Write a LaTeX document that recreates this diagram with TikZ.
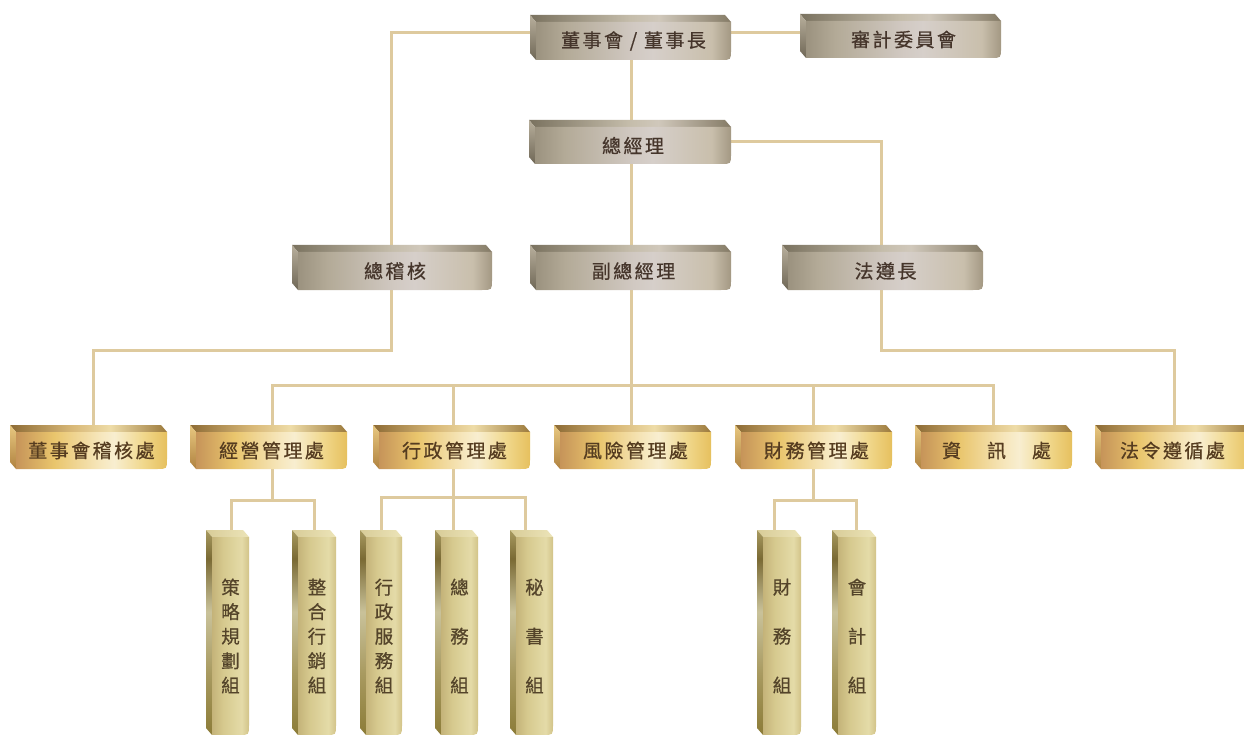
\documentclass[tikz,border=0pt]{standalone}
\usepackage{fontspec}
\newfontfamily\cjk[LetterSpace=13, FakeBold=0.7]{Noto Sans CJK TC}
\newfontfamily\cjkv[FakeBold=0.6]{Noto Sans CJK TC}
\pgfdeclarelayer{bg}\pgfdeclarelayer{mid}\pgfsetlayers{bg,mid,main}
% colours
\definecolor{conn}{HTML}{DECA9E}
\definecolor{gF0}{HTML}{9B927F}\definecolor{gF1}{HTML}{B3AA97}\definecolor{gF2}{HTML}{D1C9C2}
\definecolor{gF3}{HTML}{D6CFCA}\definecolor{gF4}{HTML}{C9BFAC}\definecolor{gF5}{HTML}{A39883}
\definecolor{gT0}{HTML}{7A725F}\definecolor{gT1}{HTML}{C5BDAB}\definecolor{gT2}{HTML}{D0C8BB}\definecolor{gT3}{HTML}{857B66}
\definecolor{gL0}{HTML}{6F6756}\definecolor{gL1}{HTML}{B8AF9C}
\definecolor{oF0}{HTML}{C69459}\definecolor{oF1}{HTML}{E9C56C}\definecolor{oF2}{HTML}{F6E6BB}
\definecolor{oF3}{HTML}{F8EED0}\definecolor{oF4}{HTML}{F0D78A}\definecolor{oF5}{HTML}{E6C05E}
\definecolor{oT0}{HTML}{8D6B35}\definecolor{oT1}{HTML}{D9B978}\definecolor{oT2}{HTML}{EEDCA8}\definecolor{oT3}{HTML}{9C7A3C}
\definecolor{oL0}{HTML}{B08240}\definecolor{oL1}{HTML}{E8C880}
\definecolor{vF0}{HTML}{C4B379}\definecolor{vF1}{HTML}{D6C98E}\definecolor{vF2}{HTML}{E4DBA8}\definecolor{vF3}{HTML}{D2C388}
\definecolor{vT0}{HTML}{D8CC98}\definecolor{vT1}{HTML}{ECE4B8}
\definecolor{vL0}{HTML}{8C7C38}\definecolor{vL1}{HTML}{C9C29A}\definecolor{vL2}{HTML}{7A6A34}\definecolor{vL3}{HTML}{A89A60}
\definecolor{txGray}{HTML}{45352B}\definecolor{txGold}{HTML}{553C20}\definecolor{txOl}{HTML}{54442A}
% shadings (important part 25bp..75bp)
\pgfdeclarehorizontalshading{grayfront}{100bp}{color(0bp)=(gF0); color(25bp)=(gF0); color(32.5bp)=(gF1); color(50bp)=(gF2); color(55bp)=(gF3); color(70bp)=(gF4); color(75bp)=(gF5); color(100bp)=(gF5)}
\pgfdeclarehorizontalshading{graytop}{100bp}{color(0bp)=(gT0); color(25bp)=(gT0); color(50bp)=(gT1); color(57bp)=(gT2); color(75bp)=(gT3); color(100bp)=(gT3)}
\pgfdeclareverticalshading{grayleft}{100bp}{color(0bp)=(gL0); color(25bp)=(gL0); color(75bp)=(gL1); color(100bp)=(gL1)}
\pgfdeclarehorizontalshading{goldfront}{100bp}{color(0bp)=(oF0); color(25bp)=(oF0); color(37.5bp)=(oF1); color(52.5bp)=(oF2); color(57.5bp)=(oF3); color(67.5bp)=(oF4); color(75bp)=(oF5); color(100bp)=(oF5)}
\pgfdeclarehorizontalshading{goldtop}{100bp}{color(0bp)=(oT0); color(25bp)=(oT0); color(45bp)=(oT1); color(57bp)=(oT2); color(75bp)=(oT3); color(100bp)=(oT3)}
\pgfdeclareverticalshading{goldleft}{100bp}{color(0bp)=(oL0); color(25bp)=(oL0); color(75bp)=(oL1); color(100bp)=(oL1)}
\pgfdeclarehorizontalshading{olfront}{100bp}{color(0bp)=(vF0); color(25bp)=(vF0); color(40bp)=(vF1); color(65bp)=(vF2); color(75bp)=(vF3); color(100bp)=(vF3)}
\pgfdeclarehorizontalshading{oltop}{100bp}{color(0bp)=(vT0); color(25bp)=(vT0); color(75bp)=(vT1); color(100bp)=(vT1)}
\pgfdeclareverticalshading{olleft}{100bp}{color(0bp)=(vL0); color(25bp)=(vL0); color(40bp)=(vL3); color(55bp)=(vL1); color(68bp)=(vL2); color(75bp)=(vL3); color(100bp)=(vL3)}
\tikzset{
  conn/.style={draw=conn, line width=3pt},
  facebase/.style={inner sep=0pt, outer sep=0pt},
  graytxt/.style={facebase, text=txGray, font={\fontsize{19}{21}\selectfont\cjk}},
  goldtxt/.style={facebase, text=txGold, font={\fontsize{19}{21}\selectfont\cjk}},
  oltxt/.style={facebase, text=txOl, align=center, font={\fontsize{18.5}{24.5}\selectfont\cjkv}},
}
% #1 name, #2 type, #3 x1, #4 y1, #5 x2, #6 y2, #7 text
\newcommand\obox[7]{%
  \begin{pgfonlayer}{mid}
    \shade[shading=#2top] (#3-6,#4-7) -- (#5-6,#4-7) -- (#5,#4) -- (#3,#4) -- cycle;
    \shade[shading=#2left] (#3-6,#4-7) -- (#3,#4) -- (#3,#6) -- (#3-6,#6-7) -- cycle;
    \shade[shading=#2front] (#3,#4) -- (#5,#4) -- (#5,#6-10) .. controls (#5,#6) .. (#5-10,#6) -- (#3,#6) -- cycle;
  \end{pgfonlayer}
  \node[#2txt, minimum width={#5-#3}, minimum height={#6-#4}] (#1) at ({(#3+#5)/2},{(#4+#6)/2}) {#7};
}
\begin{document}
\begin{tikzpicture}[x=1pt,y=-1pt]
\useasboundingbox (0,0) rectangle (1244,735);
\begin{pgfonlayer}{bg}
  \fill[white] (0,0) rectangle (1244,735);
\end{pgfonlayer}
% gray boxes
\obox{dsh}{gray}{536}{22}{731}{60}{董事會 / 董事長}
\obox{sj}{gray}{806}{21}{1001}{58}{審計委員會}
\obox{zjl}{gray}{535}{127}{731}{164}{總經理}
\obox{zjh}{gray}{298}{252}{492}{290}{總稽核}
\obox{fzjl}{gray}{536}{252}{731}{290}{副總經理}
\obox{fzz}{gray}{788}{252}{983}{290}{法遵長}
% gold boxes
\obox{g1}{gold}{16}{432}{167}{469}{董事會稽核處}
\obox{g2}{gold}{196}{432}{347}{469}{經營管理處}
\obox{g3}{gold}{379}{432}{530}{469}{行政管理處}
\obox{g4}{gold}{560}{432}{711}{469}{風險管理處}
\obox{g5}{gold}{741}{432}{892}{469}{財務管理處}
\obox{g6}{gold}{921}{432}{1072}{469}{資\hspace{26pt}訊\hspace{26pt}處}
\obox{g7}{gold}{1101}{432}{1252}{469}{\hspace*{-8pt}法令遵循處}
% vertical boxes
\obox{v1}{ol}{212}{537}{249}{735}{策\\略\\規\\劃\\組}
\obox{v2}{ol}{298}{537}{336}{735}{整\\合\\行\\銷\\組}
\obox{v3}{ol}{366}{537}{402}{735}{行\\政\\服\\務\\組}
\obox{v4}{ol}{441}{537}{478}{735}{總\\[24.5pt]務\\[24.5pt]組}
\obox{v5}{ol}{516}{537}{553}{735}{秘\\[24.5pt]書\\[24.5pt]組}
\obox{v6}{ol}{763}{537}{801}{735}{財\\[24.5pt]務\\[24.5pt]組}
\obox{v7}{ol}{838}{537}{876}{735}{會\\[24.5pt]計\\[24.5pt]組}
% connectors
\begin{pgfonlayer}{bg}
  \draw[conn] (dsh.west |- 0,33) -- (391,33) -- (391,0 |- zjh.north);
  \draw[conn] (dsh.east |- 0,33) -- (sj.west |- 0,33);
  \draw[conn] (631,0 |- dsh.south) -- (631,0 |- zjl.north);
  \draw[conn] (zjl.east |- 0,142) -- (881,142) -- (881,0 |- fzz.north);
  \draw[conn] (631,0 |- zjl.south) -- (631,0 |- fzjl.north);
  \draw[conn] (391,0 |- zjh.south) -- (391,350) -- (93,350) -- (93,0 |- g1.north);
  \draw[conn] (881,0 |- fzz.south) -- (881,350) -- (1174,350) -- (1174,0 |- g7.north);
  \draw[conn] (631,0 |- fzjl.south) -- (631,0 |- g4.north);
  \draw[conn] (272,0 |- g2.north) -- (272,385) -- (993,385) -- (993,0 |- g6.north);
  \draw[conn] (453,385) -- (453,0 |- g3.north);
  \draw[conn] (813,385) -- (813,0 |- g5.north);
  \draw[conn] (272,0 |- g2.south) -- (272,500);
  \draw[conn] (231,0 |- v1.north) -- (231,500) -- (314,500) -- (314,0 |- v2.north);
  \draw[conn] (453,0 |- g3.south) -- (453,0 |- v4.north);
  \draw[conn] (381,0 |- v3.north) -- (381,497) -- (525,497) -- (525,0 |- v5.north);
  \draw[conn] (813,0 |- g5.south) -- (813,500);
  \draw[conn] (774,0 |- v6.north) -- (774,500) -- (856,500) -- (856,0 |- v7.north);
\end{pgfonlayer}
\end{tikzpicture}
\end{document}
